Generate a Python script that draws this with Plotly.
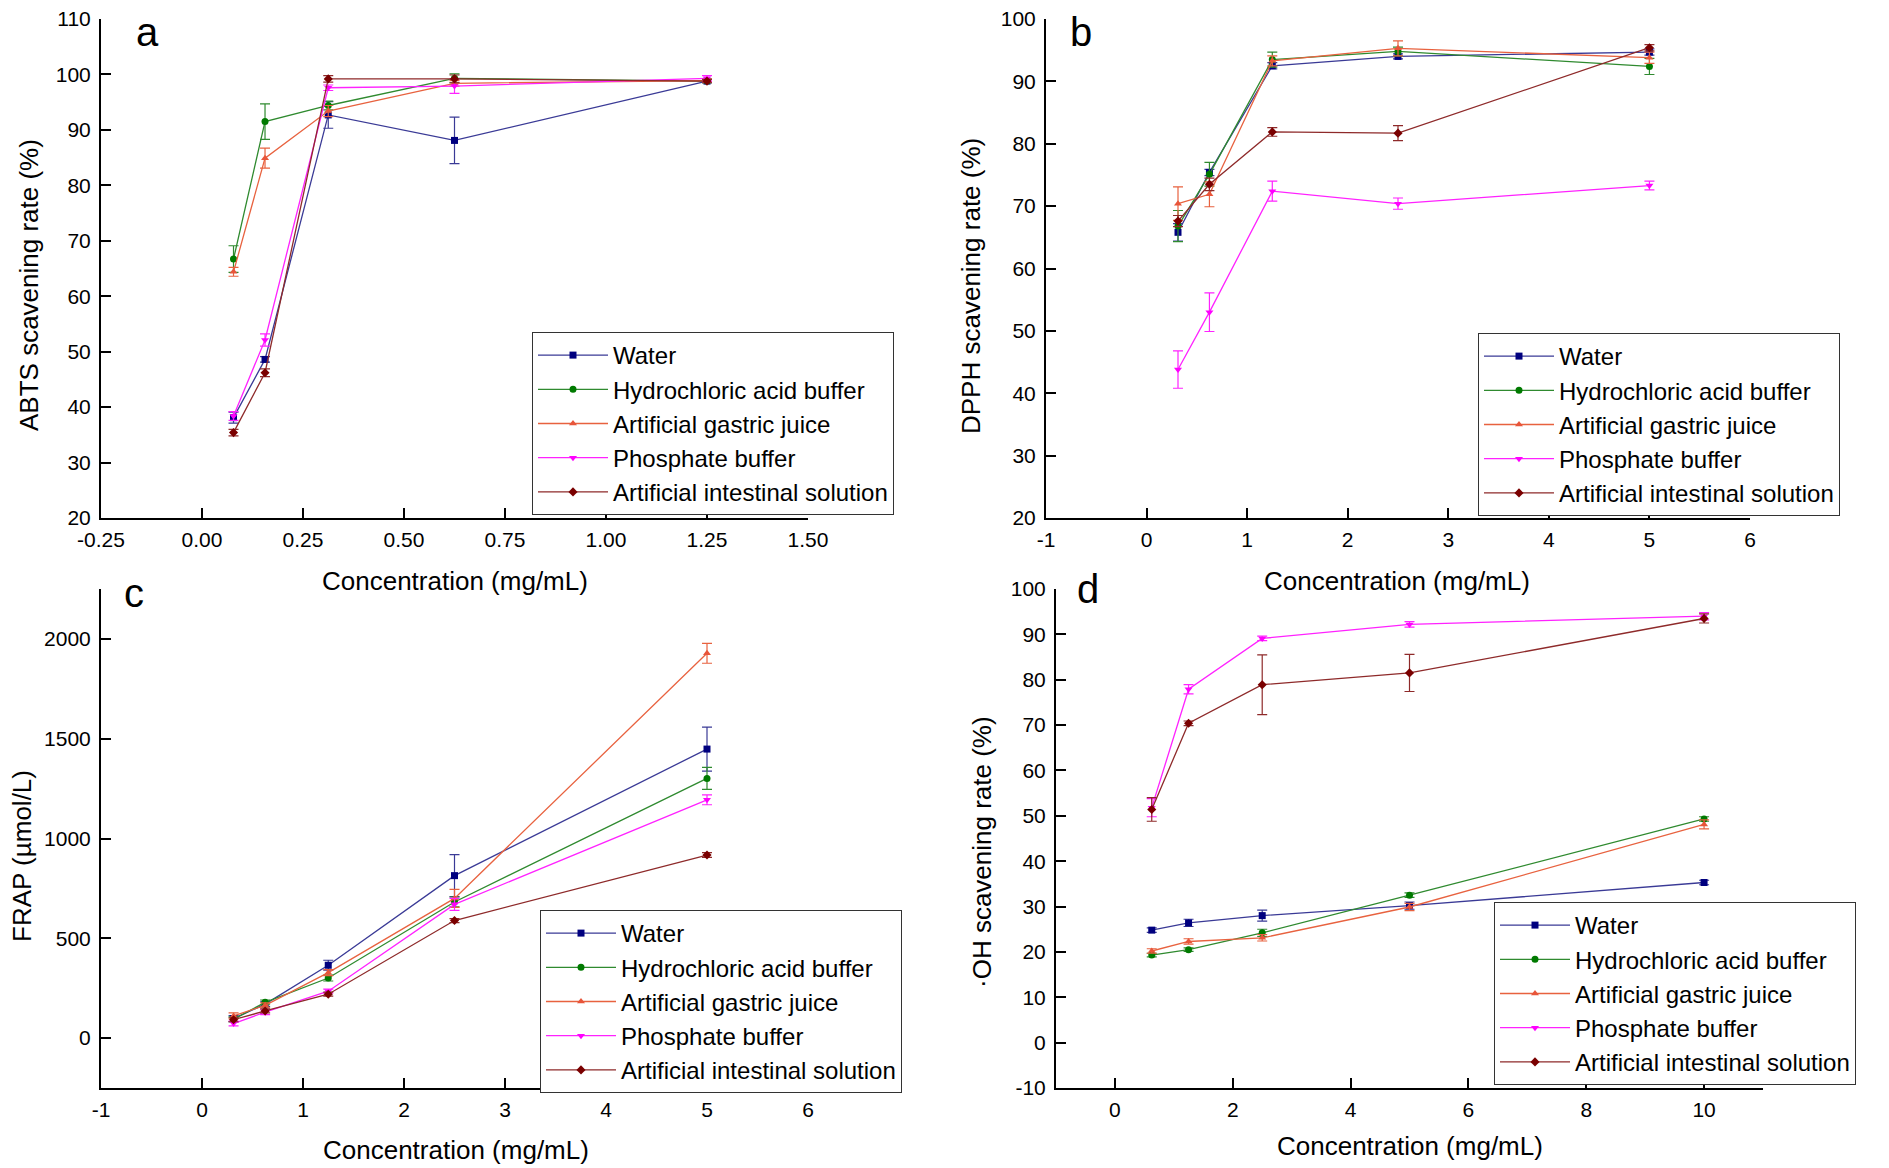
import plotly.graph_objects as go

# solvent systems (same order in every panel)
series_names = ["Water", "Hydrochloric acid buffer", "Artificial gastric juice",
                "Phosphate buffer", "Artificial intestinal solution"]

# concentrations (mg/mL)
conc_a = [0.078, 0.156, 0.3125, 0.625, 1.25]
conc_b = [0.3125, 0.625, 1.25, 2.5, 5]
conc_c = [0.3125, 0.625, 1.25, 2.5, 5]
conc_d = [0.625, 1.25, 2.5, 5, 10]

# a - ABTS scavenging rate (%)
abts_mean = [
    [38.1, 48.6, 92.7, 88.1, 98.8],
    [66.7, 91.5, 94.4, 99.3, 98.8],
    [64.4, 84.9, 93.4, 98.4, 98.9],
    [38.4, 52.1, 97.6, 97.9, 99.3],
    [35.4, 46.2, 99.2, 99.2, 98.8],
]
abts_err = [
    [1.0, 0.5, 2.4, 4.2, 0.3],
    [2.4, 3.2, 0.8, 0.8, 0.3],
    [0.8, 1.8, 1.0, 0.5, 0.3],
    [0.8, 1.1, 0.5, 1.3, 0.5],
    [0.6, 0.7, 0.6, 0.7, 0.3],
]

# b - DPPH scavenging rate (%)
dpph_mean = [
    [65.8, 75.4, 92.5, 94.0, 94.7],
    [66.8, 75.1, 93.5, 94.8, 92.4],
    [70.4, 71.9, 93.3, 95.3, 93.8],
    [43.8, 53.0, 72.4, 70.4, 73.3],
    [67.6, 73.5, 81.9, 81.7, 95.4],
]
dpph_err = [
    [1.4, 0.5, 0.5, 0.4, 0.5],
    [2.5, 1.9, 1.2, 0.7, 1.3],
    [2.7, 2.0, 0.8, 1.2, 0.9],
    [3.0, 3.1, 1.6, 0.9, 0.7],
    [0.9, 1.0, 0.7, 1.2, 0.5],
]

# c - FRAP (umol/L)
frap_mean = [
    [98, 170, 365, 814, 1448],
    [94, 179, 301, 682, 1301],
    [111, 164, 328, 700, 1928],
    [73, 130, 235, 670, 1194],
    [92, 136, 220, 589, 917],
]
frap_err = [
    [15, 12, 25, 105, 110],
    [12, 12, 15, 25, 55],
    [15, 12, 15, 45, 50],
    [12, 12, 10, 30, 25],
    [10, 10, 10, 10, 12],
]

# d - hydroxyl radical scavenging rate (%)
oh_mean = [
    [24.8, 26.4, 28.0, 30.2, 35.3],
    [19.3, 20.5, 24.2, 32.5, 49.3],
    [20.2, 22.3, 23.1, 29.9, 48.1],
    [51.8, 77.9, 89.1, 92.2, 94.0],
    [51.4, 70.4, 78.9, 81.5, 93.5],
]
oh_err = [
    [0.5, 0.8, 1.2, 0.8, 0.5],
    [0.4, 0.4, 0.8, 0.5, 0.5],
    [0.5, 0.6, 0.7, 0.8, 1.0],
    [2.0, 1.0, 0.5, 0.6, 0.8],
    [2.6, 0.5, 6.6, 4.1, 1.0],
]

# tick labels (plain hyphen minus like the original)
ticks_a_x = [-0.25, 0, 0.25, 0.5, 0.75, 1.0, 1.25, 1.5]
labels_a_x = ["-0.25", "0.00", "0.25", "0.50", "0.75", "1.00", "1.25", "1.50"]
ticks_bc_x = [-1, 0, 1, 2, 3, 4, 5, 6]
labels_bc_x = ["-1", "0", "1", "2", "3", "4", "5", "6"]
ticks_d_y = [-10, 0, 10, 20, 30, 40, 50, 60, 70, 80, 90, 100]
labels_d_y = ["-10", "0", "10", "20", "30", "40", "50", "60", "70", "80", "90", "100"]

line_colors = ["#3a3a96", "#2f8a2f", "#e8623f", "#ff22ff", "#8e2a2a"]
marker_colors = ["#00007f", "#007a00", "#e8553a", "#ff00ff", "#7a0000"]
symbols = ["square", "circle", "triangle-up", "triangle-down", "diamond"]

W, H = 1889, 1168
OFF = 8  # the page body margin shifts the plot div by 8px
FONT = "Liberation Sans, Arial, sans-serif"

fig = go.Figure()


def add_panel(n, xs, means, errs):
    sfx = "" if n == 1 else str(n)
    for i, name in enumerate(series_names):
        fig.add_trace(go.Scatter(
            x=xs, y=means[i], name=name, mode="lines+markers",
            xaxis="x" + sfx, yaxis="y" + sfx, legend="legend" + sfx,
            line=dict(color=line_colors[i], width=1.3),
            marker=dict(symbol=symbols[i], color=marker_colors[i], size=7),
            error_y=dict(type="data", array=errs[i], color=line_colors[i],
                         thickness=1.2, width=5),
        ))


add_panel(1, conc_a, abts_mean, abts_err)
add_panel(2, conc_b, dpph_mean, dpph_err)
add_panel(3, conc_c, frap_mean, frap_err)
add_panel(4, conc_d, oh_mean, oh_err)


# screen pixel -> paper fraction
def fx(px):
    return (px - OFF) / W


def fy(py):
    return 1 - (py - OFF) / H


axis_style = dict(showline=True, linecolor="black", linewidth=2, ticks="inside",
                  ticklen=10, tickwidth=2, tickcolor="black", showgrid=False,
                  zeroline=False, mirror=False, automargin=False,
                  ticklabeloverflow="allow",
                  tickfont=dict(family=FONT, size=21, color="black"))
xstyle = dict(axis_style, ticklabelstandoff=2)
ystyle = dict(axis_style, ticklabelstandoff=4)

top_dom = [fy(518), fy(19)]
bot_dom = [fy(1088), fy(589)]

layout = dict(
    width=W, height=H, margin=dict(l=0, r=0, t=0, b=0, autoexpand=False),
    paper_bgcolor="white", plot_bgcolor="white",
    font=dict(family=FONT, color="black"),
    xaxis=dict(domain=[fx(101), fx(808)], range=[-0.25, 1.5], tickvals=ticks_a_x,
               ticktext=labels_a_x, anchor="y", **xstyle),
    yaxis=dict(domain=top_dom, range=[20, 110], dtick=10, anchor="x", **ystyle),
    xaxis2=dict(domain=[fx(1046), fx(1750)], range=[-1, 6], tickvals=ticks_bc_x,
                ticktext=labels_bc_x, anchor="y2", **xstyle),
    yaxis2=dict(domain=top_dom, range=[20, 100], dtick=10, anchor="x2", **ystyle),
    xaxis3=dict(domain=[fx(101), fx(808)], range=[-1, 6], tickvals=ticks_bc_x,
                ticktext=labels_bc_x, anchor="y3", **xstyle),
    yaxis3=dict(domain=bot_dom, range=[-250, 2250],
                tickvals=[0, 500, 1000, 1500, 2000], anchor="x3", **ystyle),
    xaxis4=dict(domain=[fx(1056), fx(1763)], range=[-1, 11],
                tickvals=[0, 2, 4, 6, 8, 10], anchor="y4", **xstyle),
    yaxis4=dict(domain=bot_dom, range=[-10, 100], tickvals=ticks_d_y,
                ticktext=labels_d_y, anchor="x4", **ystyle),
)

legend_pos = [(532, 332), (1478, 333), (540, 910), (1494, 902)]
for k, (lx, ly) in enumerate(legend_pos):
    key = "legend" if k == 0 else "legend" + str(k + 1)
    layout[key] = dict(x=fx(lx), y=fy(ly), xanchor="left", yanchor="top",
                       bgcolor="white", bordercolor="#333333", borderwidth=1,
                       font=dict(family=FONT, size=24, color="black"),
                       itemwidth=70, tracegroupgap=0)

fig.update_layout(**layout)

# panel letters
letters = [("a", 134, OFF, "top"), ("b", 1068, OFF, "top"),
           ("c", 122, 593, "middle"), ("d", 1075, 589, "middle")]
for txt, x, y, ya in letters:
    fig.add_annotation(text=txt, x=fx(x), y=fy(y), xref="paper", yref="paper",
                       xanchor="left", yanchor=ya, showarrow=False,
                       font=dict(family=FONT, size=40, color="black"))

# axis titles
titles = [
    ("ABTS scavening rate (%)", 29, 285, -90),
    ("DPPH scavening rate (%)", 971, 286, -90),
    ("FRAP (µmol/L)", 22, 856, -90),
    ("·OH scavening rate (%)", 982, 852, -90),
    ("Concentration (mg/mL)", 455, 581, 0),
    ("Concentration (mg/mL)", 1397, 581, 0),
    ("Concentration (mg/mL)", 456, 1150, 0),
    ("Concentration (mg/mL)", 1410, 1146, 0),
]
for txt, x, y, ang in titles:
    fig.add_annotation(text=txt, x=fx(x), y=fy(y), xref="paper", yref="paper",
                       xanchor="center", yanchor="middle", textangle=ang, showarrow=False,
                       font=dict(family=FONT, size=26, color="black"))

fig.write_html("out.html")
